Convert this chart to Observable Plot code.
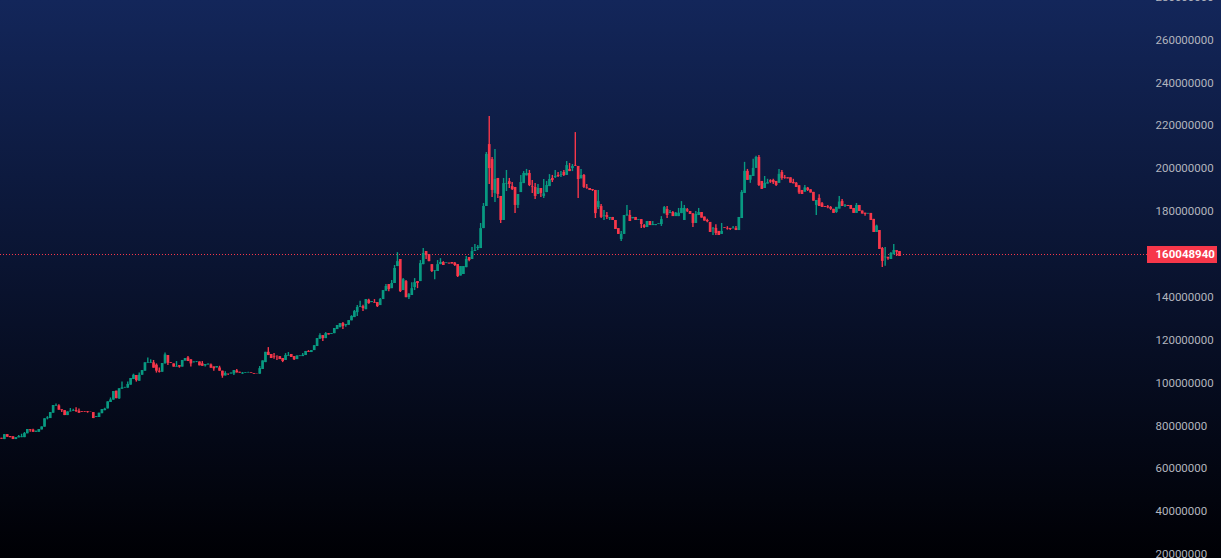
<!DOCTYPE html>
<html><head><meta charset="utf-8">
<style>html,body{margin:0;padding:0;width:1221px;height:558px;overflow:hidden;background:linear-gradient(#13265a,#000004)}svg{display:block}</style>
<script src="https://cdn.jsdelivr.net/npm/d3@7"></script>
<script src="https://cdn.jsdelivr.net/npm/@observablehq/plot@0.6"></script>
</head><body><div id="c"></div><script>
const open=[74.2,73.6,75.9,75.0,74.9,73.6,74.4,74.5,74.5,76.3,78.3,78.0,77.0,77.0,78.1,79.4,83.3,83.4,85.9,89.2,89.3,87.5,87.1,84.8,86.5,86.7,87.1,86.8,86.7,86.6,86.7,86.5,86.2,83.9,83.9,85.7,87.1,87.9,90.9,92.0,96.2,92.6,97.1,97.7,97.6,99.0,101.6,103.5,100.8,103.6,105.5,109.2,109.2,109.4,108.3,105.5,105.0,108.9,112.8,109.4,108.9,107.4,108.1,107.4,110.2,111.7,110.8,109.4,109.6,109.8,108.9,108.0,108.4,108.4,107.5,107.0,107.0,105.5,103.3,104.2,104.2,104.2,105.6,105.0,104.2,104.6,104.7,104.9,104.4,104.2,
104.1,106.3,109.5,114.3,113.3,112.3,112.6,112.3,111.4,110.5,112.5,113.3,112.3,110.9,112.3,112.3,112.8,114.7,114.2,115.1,117.0,120.4,122.1,120.7,123.0,122.6,123.0,124.9,125.8,127.7,126.8,126.9,129.0,130.5,132.8,135.2,135.6,134.2,138.6,137.5,137.5,137.5,136.1,138.9,142.8,145.9,144.0,146.4,154.3,157.6,143.1,147.3,139.8,140.8,144.5,147.3,147.3,155.2,161.3,159.9,155.2,152.1,152.0,155.2,156.2,155.7,155.9,156.2,155.9,155.2,149.9,150.6,153.8,158.5,157.6,161.3,162.7,
162.7,172.0,182.3,211.2,204.2,188.4,195.4,187.0,175.8,192.7,193.9,191.6,191.2,182.8,188.8,193.0,196.6,197.7,191.6,191.2,187.9,190.7,187.0,188.8,191.6,195.4,195.8,196.8,196.8,198.2,196.8,199.6,200.0,201.4,201.0,195.2,196.8,191.2,190.7,190.2,189.8,181.8,182.3,177.8,178.1,176.6,177.2,175.8,172.0,166.9,169.3,178.1,178.1,176.6,177.2,175.8,176.2,173.4,172.5,175.3,173.4,173.4,173.9,173.9,178.9,180.9,179.0,179.5,177.6,177.6,179.0,175.8,180.8,180.0,
178.9,174.4,178.1,179.5,177.4,175.8,174.9,171.8,172.1,170.7,169.3,172.4,172.1,172.1,171.9,172.1,171.1,176.7,188.4,198.7,194.6,196.3,200.1,205.2,194.0,190.7,192.8,194.3,194.5,194.0,193.1,198.2,195.7,195.7,195.7,193.5,193.2,192.0,189.8,189.0,190.9,190.1,188.9,182.8,186.1,183.6,182.3,182.2,181.9,181.0,179.5,181.1,184.7,182.5,182.8,182.8,181.4,179.1,182.8,180.2,179.2,178.8,179.1,176.3,170.2,171.1,162.7,158.4,158.6,157.6,159.8,161.7,161.3];
const close=[73.8,75.9,74.7,74.5,73.6,74.5,75.0,74.9,76.4,78.3,78.0,77.0,77.5,78.3,79.5,83.3,83.7,86.2,89.5,89.5,87.3,87.1,84.8,86.5,86.8,87.0,86.7,85.9,86.4,86.4,86.4,86.4,83.4,84.3,85.9,87.6,87.8,91.2,92.1,96.0,92.7,97.3,97.7,97.9,99.3,102.1,103.6,101.1,103.6,105.8,109.4,109.5,109.5,106.9,105.5,105.0,109.1,113.1,109.2,109.1,107.4,107.7,107.4,110.5,111.4,110.0,108.9,109.8,109.8,108.0,107.8,108.6,108.8,106.9,106.6,107.7,105.5,103.2,104.4,104.1,104.6,105.8,104.7,104.6,104.6,104.9,104.9,104.6,104.1,104.1,
106.7,110.3,114.3,112.8,111.4,112.0,112.5,110.9,110.0,112.8,112.8,111.9,110.8,112.6,112.6,112.9,114.7,114.3,115.1,117.4,120.7,122.1,120.7,123.0,122.4,123.0,125.4,126.8,127.7,126.3,127.3,129.1,131.0,133.3,135.2,135.6,134.7,138.9,137.0,138.0,137.2,135.6,138.9,143.1,145.0,143.6,146.4,153.4,156.6,142.6,148.2,139.8,141.2,144.0,146.8,146.4,155.7,160.4,159.4,156.6,152.0,152.4,155.2,156.2,154.8,156.0,155.5,155.5,154.8,149.6,154.3,154.3,157.6,157.1,161.3,161.8,163.3,
172.0,182.3,206.6,200.0,189.8,194.9,187.9,175.8,193.0,193.0,192.6,190.2,182.8,187.9,193.5,197.7,197.7,192.1,191.3,187.0,190.7,188.4,188.2,192.1,194.9,194.4,196.3,196.3,197.1,196.8,201.4,198.6,201.0,201.1,194.9,196.8,191.2,190.9,189.8,189.8,179.0,184.6,177.2,178.1,177.2,177.2,175.8,171.6,169.3,169.3,178.1,178.4,175.3,177.2,175.8,176.1,173.9,172.5,175.3,173.4,173.9,173.9,174.2,176.2,181.8,178.1,179.5,177.6,179.2,179.2,181.4,181.4,180.1,178.6,
174.4,178.6,179.5,176.9,175.5,175.2,170.2,172.1,169.7,168.8,170.7,172.1,171.8,171.6,172.2,171.1,177.2,188.9,198.7,194.5,196.8,200.1,205.2,192.1,190.3,193.1,193.4,193.7,193.4,192.1,197.3,195.4,195.4,195.2,193.2,192.9,191.2,188.6,187.9,191.0,189.8,188.6,184.8,185.1,182.3,181.9,181.9,181.7,181.0,179.1,181.9,184.4,182.3,182.8,182.3,181.0,179.1,182.8,180.0,178.8,178.6,179.1,175.8,170.2,173.2,162.3,156.7,158.7,157.9,160.4,161.8,161.0,159.0];
const high=[74.2,75.9,75.9,75.0,74.9,74.5,75.5,76.1,76.9,78.3,78.3,78.4,77.5,78.3,79.5,83.3,84.3,86.2,89.5,90.2,89.9,87.5,87.1,86.5,88.1,87.8,88.5,87.9,86.7,86.7,86.7,86.5,86.2,84.3,85.9,87.6,88.2,91.2,93.0,96.0,96.2,97.3,100.4,98.0,100.4,102.1,104.1,103.5,104.7,105.8,109.4,111.7,110.8,110.5,108.9,107.0,109.1,114.0,112.8,109.4,108.9,110.0,108.1,110.5,111.4,112.3,110.8,109.8,110.0,109.8,110.0,108.6,108.8,108.9,107.5,107.7,107.8,105.5,105.2,104.2,104.6,105.8,106.3,105.0,104.9,104.9,105.0,104.9,104.4,104.2,
107.7,110.3,114.3,116.5,113.3,113.7,112.6,112.3,111.4,113.7,114.2,113.3,112.3,112.6,112.6,113.7,114.7,115.1,115.1,117.4,120.7,123.0,122.1,123.5,123.0,123.0,125.4,126.8,127.7,128.2,127.3,129.1,131.4,133.8,136.1,138.1,136.3,138.9,139.1,138.0,138.9,137.5,139.4,143.1,145.9,145.9,147.8,154.8,160.8,157.6,148.7,147.8,141.7,146.8,148.7,147.3,157.1,162.7,161.3,159.9,155.2,152.4,157.1,158.0,156.6,156.0,155.9,156.2,156.2,155.2,154.3,154.3,159.0,158.5,163.2,164.6,164.1,
174.4,183.7,207.5,224.3,205.2,208.9,195.4,187.0,195.4,199.1,195.4,193.5,191.2,187.9,196.8,198.6,199.6,199.1,194.4,193.0,192.6,190.7,194.9,194.0,197.2,196.8,199.1,198.2,198.6,199.1,203.3,202.4,201.9,216.8,201.0,199.6,197.2,192.6,190.7,190.2,189.8,189.8,183.2,180.5,179.5,177.2,177.2,175.8,172.0,170.7,178.1,182.8,180.5,177.2,177.2,176.1,176.2,173.9,175.3,175.3,175.3,173.9,174.2,177.6,182.3,182.3,180.5,180.0,179.5,181.4,184.6,182.8,181.4,180.0,
178.9,180.0,181.4,179.5,177.4,176.4,174.9,172.5,173.8,170.7,174.4,172.4,172.9,172.1,173.0,173.0,177.2,189.8,202.9,199.6,196.8,204.3,205.7,206.1,194.0,196.3,195.0,194.8,195.0,194.0,199.6,199.1,196.8,195.7,195.7,195.0,193.5,192.0,189.8,192.1,191.2,190.1,188.9,185.1,187.8,184.2,182.3,182.8,182.3,181.0,181.9,187.0,185.6,183.3,182.8,182.8,181.4,183.7,182.8,180.2,179.2,179.1,179.1,176.3,173.6,171.1,163.2,163.2,158.6,160.9,164.6,161.7,161.3];
const low=[73.8,73.6,74.7,74.5,73.6,73.6,74.4,74.5,74.5,76.3,77.0,77.0,77.0,77.0,78.1,79.4,82.8,83.4,85.9,89.2,87.3,86.2,84.8,84.8,86.5,86.7,86.2,85.9,86.4,86.4,85.9,86.4,83.4,83.9,83.9,85.7,87.1,87.9,90.9,92.0,92.7,92.3,97.1,97.6,97.6,99.0,101.6,100.4,100.8,103.6,105.5,109.2,109.2,106.9,104.6,104.6,105.0,108.9,108.1,109.1,107.4,107.4,106.9,107.4,110.2,110.0,107.4,109.4,109.5,108.0,107.8,107.4,108.4,106.9,105.5,107.0,105.5,102.2,103.3,103.5,104.2,103.5,104.7,104.6,104.0,104.6,104.6,104.6,104.1,104.1,
104.1,106.3,109.5,112.8,111.4,111.1,110.5,110.9,109.5,110.5,112.5,111.9,110.5,110.9,112.3,112.3,112.8,114.3,114.2,115.1,117.0,120.4,119.3,120.7,122.4,122.6,123.0,124.9,125.8,124.9,126.0,126.9,129.0,130.5,131.0,135.2,133.3,134.2,136.7,137.5,137.2,135.2,136.1,138.9,142.8,142.6,144.0,146.4,154.3,142.2,143.1,139.8,138.9,140.8,143.1,144.0,147.3,155.2,157.6,156.6,151.5,148.2,152.0,155.2,154.8,155.7,155.5,155.5,154.3,149.2,149.9,150.6,153.8,156.6,157.6,161.3,161.8,
162.7,172.0,182.3,192.6,186.5,184.2,186.0,174.4,175.8,189.3,190.7,189.8,179.0,181.4,188.8,193.0,196.6,191.6,188.4,185.6,187.9,186.5,186.0,188.8,191.6,193.5,195.4,195.8,195.8,196.3,196.8,198.6,198.6,201.0,186.0,195.2,190.7,190.4,189.8,189.3,176.7,180.9,176.7,175.8,176.2,175.8,175.8,171.6,169.3,166.0,169.3,177.6,175.3,176.6,175.8,175.8,172.0,172.0,172.5,173.4,173.4,173.4,173.9,173.0,178.9,176.7,179.0,177.6,177.6,177.6,179.0,175.8,179.5,178.6,
172.5,174.4,178.1,176.9,175.5,174.7,170.2,168.8,168.8,168.8,169.3,172.1,171.3,171.1,171.9,171.1,171.1,176.7,188.4,194.5,193.1,196.3,200.1,191.7,190.3,190.7,192.8,193.1,192.6,191.7,193.1,194.5,195.0,195.2,193.2,192.9,191.2,187.9,187.9,189.0,189.3,188.6,184.8,178.1,182.3,181.9,181.9,181.3,180.5,179.1,179.1,181.1,182.3,181.9,182.3,181.0,179.1,179.1,180.0,178.8,177.8,178.8,175.8,170.2,170.2,162.3,153.9,154.4,157.2,157.6,159.8,159.0,159.0];
const yTicks=[20,40,60,80,100,120,140,160,180,200,220,240,260,280].map(d=>d*1e6);
const lastPrice=160048940;
const upColor="#089981", downColor="#f7374a", labelColor="#b2b5be";

const candles=open.map((o,i)=>({i,open:o*1e6,close:close[i]*1e6,high:high[i]*1e6,low:low[i]*1e6}));
const N=candles.length, W=1221, MR=74;
const step=(899-1)/(N-1);
const x0=-1/step, x1=(W-MR-1)/step;
const col=d=>d.close>=d.open?upColor:downColor;
const chart=Plot.plot({
  width:W,height:558,marginLeft:0,marginRight:MR,marginTop:0,marginBottom:0,
  style:{background:"transparent",fontFamily:"Roboto, sans-serif",fontSize:"11.5px"},
  x:{domain:[x0,x1],axis:null},
  y:{domain:[20e6,280e6],range:[554,554-260*2.144]},
  marks:[
    Plot.axisY(yTicks,{anchor:"right",tickSize:0,tickPadding:8,label:null,tickFormat:d=>String(d),color:labelColor,fill:labelColor}),
    Plot.ruleY([lastPrice],{stroke:downColor,strokeWidth:1,strokeDasharray:"1 2",shapeRendering:"crispEdges"}),
    Plot.ruleX(candles,{x:"i",y1:"low",y2:"high",stroke:col,strokeWidth:1.4}),
    Plot.ruleX(candles,{x:"i",y1:"open",y2:"close",stroke:col,strokeWidth:2.7}),
    Plot.ruleY([lastPrice],{x1:x1,x2:x1+70/step,stroke:downColor,strokeWidth:17,shapeRendering:"crispEdges"}),
    Plot.text([lastPrice],{x:()=>x1,y:d=>d,text:d=>String(d),dx:8,textAnchor:"start",fill:"#fff",fontWeight:700})
  ]
});
document.getElementById("c").append(chart);
</script></body></html>
